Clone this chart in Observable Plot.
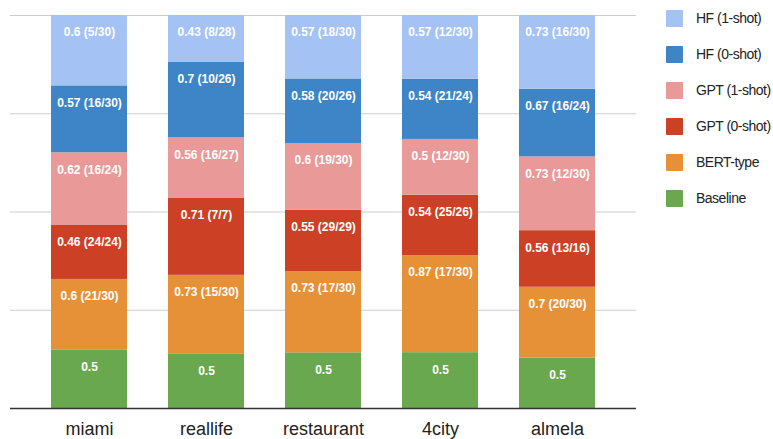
<!DOCTYPE html>
<html>
<head>
<meta charset="utf-8">
<script src="https://cdn.jsdelivr.net/npm/d3@7"></script>
<script src="https://cdn.jsdelivr.net/npm/@observablehq/plot@0.6"></script>
<style>
  html, body { margin: 0; padding: 0; background: #fff; }
  #wrap { position: relative; width: 773px; height: 439px; overflow: hidden; }
  #legend { position: absolute; left: 666px; top: 0px; font: 14px "Liberation Sans", Arial, sans-serif; letter-spacing: -0.5px; color: #222; white-space: nowrap; }
  .item { display: flex; align-items: center; height: 36px; }
  .sw { width: 17px; height: 17px; margin-right: 13px; border-radius: 1px; flex: none; }
</style>
</head>
<body>
<div id="wrap"><div id="chart"></div><div id="legend"></div></div>
<script>
// Datasets along the x axis
const datasets = ["miami", "reallife", "restaurant", "4city", "almela"];

// Series, bottom of the stack first
const seriesNames = ["Baseline", "BERT-type", "GPT (0-shot)", "GPT (1-shot)", "HF (0-shot)", "HF (1-shot)"];
const seriesColors = ["#6aa84f", "#e69138", "#cc4125", "#ea9999", "#3d85c6", "#a4c2f4"];

// Scores per series (one per dataset) and the counts shown next to them
const baseline = [0.5, 0.5, 0.5, 0.5, 0.5];
const bert = [0.6, 0.73, 0.73, 0.87, 0.7];
const bertCounts = ["21/30", "15/30", "17/30", "17/30", "20/30"];
const gpt0 = [0.46, 0.71, 0.55, 0.54, 0.56];
const gpt0Counts = ["24/24", "7/7", "29/29", "25/26", "13/16"];
const gpt1 = [0.62, 0.56, 0.6, 0.5, 0.73];
const gpt1Counts = ["16/24", "16/27", "19/30", "12/30", "12/30"];
const hf0 = [0.57, 0.7, 0.58, 0.54, 0.67];
const hf0Counts = ["16/30", "10/26", "20/26", "21/24", "16/24"];
const hf1 = [0.6, 0.43, 0.57, 0.57, 0.73];
const hf1Counts = ["5/30", "8/28", "18/30", "12/30", "16/30"];

const gridTicks = [0, 0.25, 0.5, 0.75, 1];

const seriesValues = [baseline, bert, gpt0, gpt1, hf0, hf1];
const seriesCounts = [null, bertCounts, gpt0Counts, gpt1Counts, hf0Counts, hf1Counts];

const rows = [];
seriesNames.forEach((s, si) => {
  datasets.forEach((d, di) => {
    const v = seriesValues[si][di];
    const c = seriesCounts[si];
    rows.push({dataset: d, series: s, value: v, label: c ? `${v} (${c[di]})` : `${v}`});
  });
});

// Each bar is normalized to the full height
const stackOpts = {x: "dataset", y: "value", z: "series", order: seriesNames, offset: "normalize"};

const chart = Plot.plot({
  width: 773,
  height: 439,
  marginLeft: 30,
  marginRight: 156,
  marginTop: 15,
  marginBottom: 31,
  style: {fontFamily: "Arial, 'Liberation Sans', sans-serif", background: "#fff"},
  x: {domain: datasets, paddingInner: 0.35, paddingOuter: 0.18, label: null},
  y: {domain: [0, 1], axis: null},
  color: {domain: seriesNames, range: seriesColors},
  marks: [
    Plot.ruleY(gridTicks.slice(1), {stroke: "#cccccc", strokeWidth: 1, insetLeft: -20, insetRight: -19}),
    Plot.barY(rows, Plot.stackY({...stackOpts, fill: "series"})),
    Plot.text(rows, Plot.stackY2({...stackOpts, text: "label", fill: "white", fontWeight: "bold", fontSize: 12, dy: 17})),
    Plot.ruleY([0], {stroke: "#333333", strokeWidth: 1.5, insetLeft: -20, insetRight: -19}),
    Plot.axisX({tickSize: 0, tickPadding: 14, fontSize: 18, fill: "#222", label: null})
  ]
});
document.getElementById("chart").appendChild(chart);

// Legend, top entry is the top of the stack
const legend = document.getElementById("legend");
seriesNames.slice().reverse().forEach((s) => {
  const i = seriesNames.indexOf(s);
  const item = document.createElement("div");
  item.className = "item";
  item.innerHTML = `<span class="sw" style="background:${seriesColors[i]}"></span><span>${s}</span>`;
  legend.appendChild(item);
});
</script>
</body>
</html>
